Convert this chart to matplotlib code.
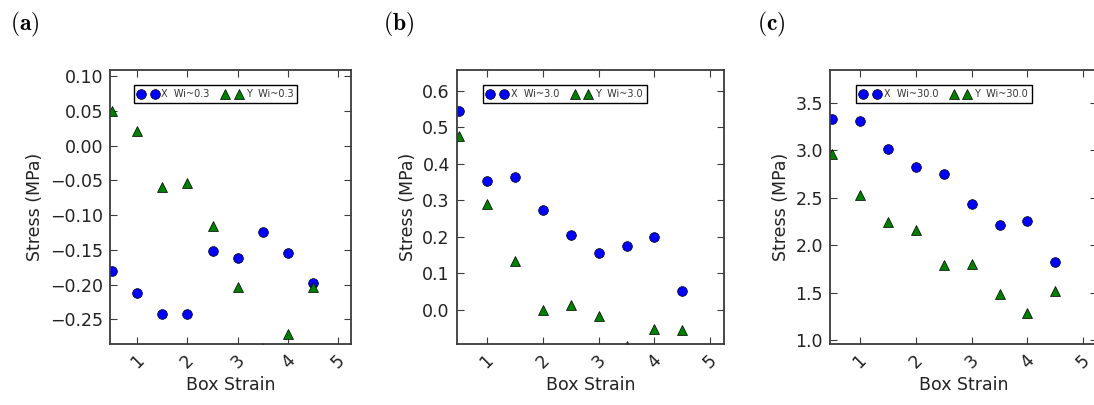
import numpy as np
import matplotlib
matplotlib.use("Agg")
import matplotlib.pyplot as plt

plt.rcParams['mathtext.fontset'] = 'cm'
plt.rcParams['font.family'] = ['DejaVu Sans']

# Box strain values shared by all panels
strain = [0.5, 1.0, 1.5, 2.0, 2.5, 3.0, 3.5, 4.0, 4.5]

# Panel (a): Wi ~ 0.3
x_wi03 = [-0.180, -0.212, -0.242, -0.243, -0.151, -0.161, -0.124, -0.154, -0.197]
y_wi03 = [0.050, 0.021, -0.059, -0.053, -0.116, -0.204, -0.291, -0.271, -0.204]

# Panel (b): Wi ~ 3.0
x_wi3 = [0.545, 0.353, 0.364, 0.273, 0.205, 0.155, 0.174, 0.200, 0.050]
y_wi3 = [0.477, 0.290, 0.134, -0.002, 0.013, -0.018, -0.099, -0.052, -0.056]

# Panel (c): Wi ~ 30.0
x_wi30 = [3.325, 3.304, 3.013, 2.824, 2.750, 2.433, 2.216, 2.251, 1.824]
y_wi30 = [2.965, 2.530, 2.247, 2.160, 1.790, 1.800, 1.485, 1.290, 1.520]

wi_labels = ["0.3", "3.0", "30.0"]
panel_tags = ["(a)", "(b)", "(c)"]
y_ticks = [
    [-0.25, -0.20, -0.15, -0.10, -0.05, 0.00, 0.05, 0.10],
    [0.0, 0.1, 0.2, 0.3, 0.4, 0.5, 0.6],
    [1.0, 1.5, 2.0, 2.5, 3.0, 3.5],
]
y_fmt = ["{:.2f}", "{:.1f}", "{:.1f}"]
y_limits = [(-0.2855, 0.109), (-0.094, 0.657), (0.958, 3.846)]
x_ticks = [1, 2, 3, 4, 5]

series = [(x_wi03, y_wi03), (x_wi3, y_wi3), (x_wi30, y_wi30)]

fig = plt.figure(figsize=(10.94, 4.05), dpi=100)
axes_rects = [
    (110 / 1094, 0.1506, 241 / 1094, 0.6765),
    (456.7 / 1094, 0.1506, 267.6 / 1094, 0.6765),
    (829.7 / 1094, 0.1506, 267.6 / 1094, 0.6765),
]
tag_x = [10 / 1094, 383 / 1094, 757 / 1094]

text_col = '#222222'
spine_col = '#3a3a3a'

for i, ax_rect in enumerate(axes_rects):
    ax = fig.add_axes(ax_rect)
    xs, ys = series[i]
    ax.plot(strain, xs, 'o', color='#0000ff', markeredgecolor='#000000',
            markeredgewidth=0.5, markersize=7, label=f"X  Wi~{wi_labels[i]}")
    ax.plot(strain, ys, '^', color='#007f00', markeredgecolor='#000000',
            markeredgewidth=0.5, markersize=7, label=f"Y  Wi~{wi_labels[i]}")
    ax.set_xlim(0.46, 5.25)
    ax.set_ylim(*y_limits[i])
    ax.set_xticks(x_ticks)
    ax.set_xticklabels([str(t) for t in x_ticks], rotation=45, fontsize=12.5,
                       color=text_col)
    ax.set_yticks(y_ticks[i])
    ax.set_yticklabels([y_fmt[i].format(t).replace('-', '\u2212') for t in y_ticks[i]],
                       fontsize=12.5, color=text_col)
    ax.tick_params(direction='in', length=5, width=0.8, top=True, right=True,
                   color=spine_col, pad=5)
    for s in ax.spines.values():
        s.set_linewidth(1.3)
        s.set_color(spine_col)
    ax.set_xlabel("Box Strain", fontsize=12.5, color=text_col, labelpad=3)
    ax.set_ylabel("Stress (MPa)", fontsize=12.5, color=text_col, labelpad=4)
    leg = ax.legend(loc='upper left', bbox_to_anchor=(0.1, 0.945),
                    borderaxespad=0, ncol=2, numpoints=2, fontsize=7,
                    fancybox=False, framealpha=1, handletextpad=0.4,
                    columnspacing=1.3, borderpad=0.4, handlelength=2.0,
                    markerscale=1.0)
    leg.get_frame().set_edgecolor('#000000')
    leg.get_frame().set_linewidth(1.0)
    for t in leg.get_texts():
        t.set_color('#333333')
    fig.text(tag_x[i], 0.975, r'$\mathbf{' + panel_tags[i] + '}$',
             fontsize=17, ha='left', va='top', color='#000000')

fig.savefig("out.png", dpi=100)
